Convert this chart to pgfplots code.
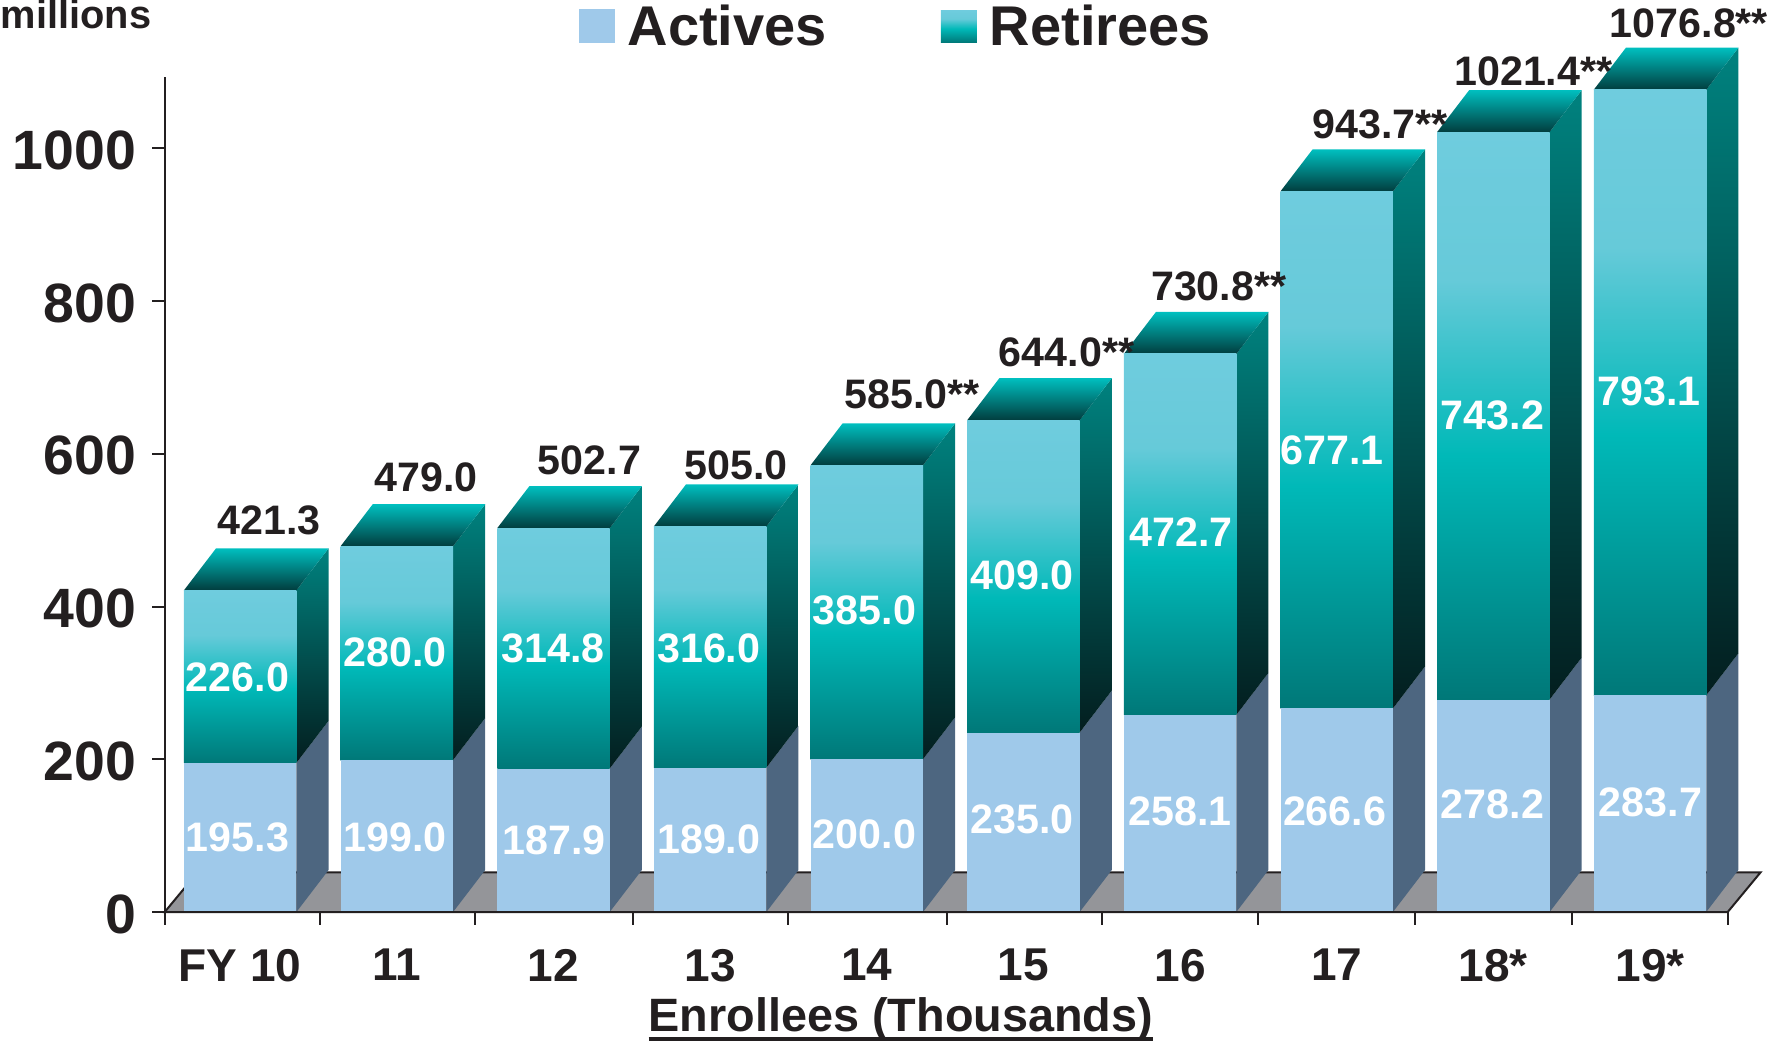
\documentclass[border=0pt]{standalone}
\usepackage{fontspec}
\setmainfont{Liberation Sans}
\usepackage{pgfplots}
\pgfplotsset{compat=1.18}
\definecolor{ink}{HTML}{231F20}
\definecolor{act}{HTML}{9FC9EA}
\definecolor{actside}{HTML}{4D6680}
\definecolor{floorc}{HTML}{949599}
\definecolor{retA}{HTML}{6FCCDE}
\definecolor{retAb}{HTML}{66CAD9}
\definecolor{retB}{HTML}{00B9B8}
\definecolor{retC}{HTML}{007878}
\definecolor{sideA}{HTML}{00827F}
\definecolor{sideB}{HTML}{031E1F}
\definecolor{topA}{HTML}{00BFBF}
\definecolor{topB}{HTML}{013D3E}
\pgfdeclareverticalshading{ret}{100bp}{color(0bp)=(retC); color(25bp)=(retC); color(46.5bp)=(retB); color(62bp)=(retAb); color(75bp)=(retA); color(100bp)=(retA)}
\pgfdeclareverticalshading{retside}{100bp}{color(0bp)=(sideB); color(25bp)=(sideB); color(75bp)=(sideA); color(100bp)=(sideA)}
\pgfdeclareverticalshading{rettop}{100bp}{color(0bp)=(topB); color(25bp)=(topB); color(75bp)=(topA); color(100bp)=(topA)}
\newcommand\fnt[1]{\fontsize{#1}{#1}\selectfont\bfseries}
% x position, actives, total
\newcommand\barsides[3]{%
  \pgfmathsetmacro\xr{#1+0.359}%
  \pgfmathsetmacro\xb{#1+0.359+0.205}%
  \pgfmathsetmacro\xl{#1-0.359}%
  \pgfmathsetmacro\xc{#1-0.359+0.205}%
  \pgfmathsetmacro\ya{#2+55}%
  \pgfmathsetmacro\yt{#3+55}%
  \edef\cmd{\noexpand\addplot[draw=none,fill=actside,forget plot] coordinates {(\xr,0)(\xb,55)(\xb,\ya)(\xr,#2)} --cycle;
    \noexpand\addplot[draw=none,shade,shading=retside,forget plot] coordinates {(\xr,#2)(\xb,\ya)(\xb,\yt)(\xr,#3)} --cycle;
    \noexpand\addplot[draw=none,shade,shading=rettop,forget plot] coordinates {(\xl,#3)(\xc,\yt)(\xb,\yt)(\xr,#3)} --cycle;}%
  \cmd
}
\pgfplotsset{base/.style={
  scale only axis, width=781.5pt, height=417.7pt,
  xmin=-0.482, xmax=9.496, ymin=0, ymax=1094, clip=false,
  at={(82.35pt,64.5pt)}, anchor=south west}}
% x position, actives, retirees: one stacked column, in its own axis so that
% each bar's gradient runs over that bar alone
\newcommand\stackcol[3]{%
  \begin{axis}[base, hide axis, ybar stacked, bar width=0.718]
  \addplot[draw=none,fill=act,forget plot] coordinates {(#1,#2)};
  \addplot[draw=none,shade,shading=ret,forget plot] coordinates {(#1,#3)};
  \end{axis}%
}
\newcommand\lab[4][ink]{\node[inner sep=0pt,text=#1,font=\fnt{#4}] at ({#2*0.56792pt},{(916-#3)*0.56792pt}) {\LabText};}
\newcommand\tl[4][ink]{\def\LabText{#4}\lab[#1]{#2}{#3}{20.6}}
\newcommand\thickul[1]{\smash{\setbox0\hbox{#1}\rlap{\rule[-4.5pt]{\wd0}{2pt}}\box0}}
\begin{document}
\begin{tikzpicture}[x=1pt,y=1pt]
\useasboundingbox (0,0) rectangle (890.5,520.5);
\begin{axis}[base, hide axis, no markers]
\addplot[fill=floorc,draw=ink,line width=1pt,forget plot] coordinates {(-0.482,0)(-0.272,52)(9.706,52)(9.496,0)} --cycle;
\barsides{0}{195.3}{421.3}
\barsides{1}{199.0}{479.0}
\barsides{2}{187.9}{502.7}
\barsides{3}{189.0}{505.0}
\barsides{4}{200.0}{585.0}
\barsides{5}{235.0}{644.0}
\barsides{6}{258.1}{730.8}
\barsides{7}{266.6}{943.7}
\barsides{8}{278.2}{1021.4}
\barsides{9}{283.7}{1076.8}
\end{axis}
\stackcol{0}{195.3}{226.0}
\stackcol{1}{199.0}{280.0}
\stackcol{2}{187.9}{314.8}
\stackcol{3}{189.0}{316.0}
\stackcol{4}{200.0}{385.0}
\stackcol{5}{235.0}{409.0}
\stackcol{6}{258.1}{472.7}
\stackcol{7}{266.6}{677.1}
\stackcol{8}{278.2}{743.2}
\stackcol{9}{283.7}{793.1}
\begin{axis}[base,
  axis lines=left, axis line style={ink,line width=1pt,-},
  major tick length=6.3pt, minor tick length=6.3pt,
  ytick={0,200,400,600,800,1000},
  ytick style={ink,line width=1pt},
  tick align=outside,
  xtick={0,...,9},
  xticklabels={FY 10,11,12,13,14,15,16,17,18*,19*},
  xtick style={draw=none},
  extra x ticks={-0.482,0.51,1.50,2.51,3.50,4.51,5.50,6.50,7.50,8.50,9.496},
  extra x tick labels={},
  extra x tick style={xtick style={ink,line width=1pt,draw=ink},tick align=outside},
  /pgf/number format/assume math mode=true,
  /pgf/number format/1000 sep={},
  yticklabel style={font=\fnt{27.7},text=ink,xshift=-4.5pt,yshift=-1pt},
  xticklabel style={font=\fnt{23},text=ink,yshift=-8.8pt},
  xlabel={\thickul{Enrollees (Thousands)}},
  xlabel style={at={(axis description cs:0.471,-0.1433)},anchor=center,font=\fnt{23.4},text=ink},
  ylabel={millions},
  ylabel style={at={(axis description cs:-0.0567,1.074)},anchor=center,rotate=-90,font=\fnt{19.9},text=ink},
  legend style={at={(axis description cs:0.4684,1.06)},anchor=center,draw=none,fill=none,legend columns=2,font=\fnt{28},text=ink,
    /tikz/every even column/.append style={column sep=55pt}},
]
\addlegendimage{legend image code/.code={\path[draw=none] (0pt,0pt) -- (22.5pt,0pt); \fill[act,draw=none] (0pt,-8.5pt) rectangle (18pt,8.5pt);}}
\addlegendentry{Actives}
\addlegendimage{legend image code/.code={\path[draw=none] (0pt,0pt) -- (22.5pt,0pt); \path[draw=none,shade,shading=ret] (0pt,-8pt) rectangle (18pt,8pt);}}
\addlegendentry{Retirees}
\end{axis}
% totals
\tl{237}{458}{421.3}\tl{375}{420}{479.0}\tl{519}{405}{502.7}\tl{648}{409}{505.0}\tl{803}{347}{585.0**}
\tl{939}{310}{644.0**}\tl{1073}{252}{730.8**}\tl{1215}{109}{943.7**}\tl{1350}{62}{1021.4**}\tl{1487}{20}{1076.8**}
% retirees
\tl[white]{209}{596}{226.0}\tl[white]{348}{574}{280.0}\tl[white]{487}{570}{314.8}\tl[white]{624}{570}{316.0}\tl[white]{761}{537}{385.0}
\tl[white]{900}{506}{409.0}\tl[white]{1040}{468}{472.7}\tl[white]{1173}{396}{677.1}\tl[white]{1314}{365}{743.2}\tl[white]{1452}{344}{793.1}
% actives
\tl[white]{209}{737}{195.3}\tl[white]{348}{737}{199.0}\tl[white]{488}{739}{187.9}\tl[white]{624}{738}{189.0}\tl[white]{761}{734}{200.0}
\tl[white]{900}{721}{235.0}\tl[white]{1039}{714}{258.1}\tl[white]{1175}{714}{266.6}\tl[white]{1314}{708}{278.2}\tl[white]{1453}{706}{283.7}
\end{tikzpicture}
\end{document}
